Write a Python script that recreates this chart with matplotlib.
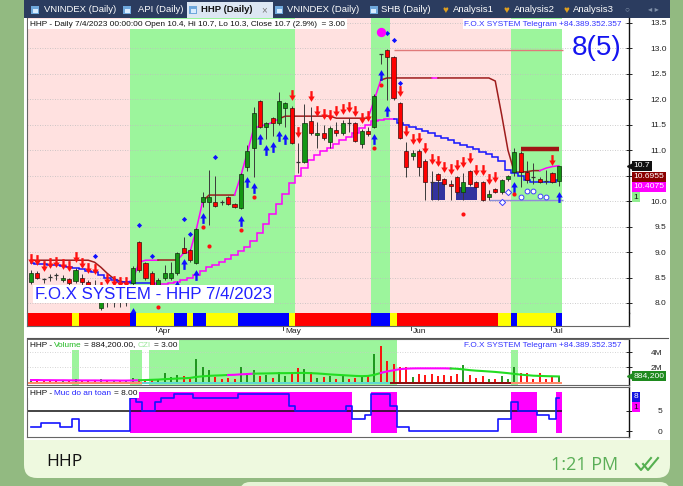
import numpy as np
import matplotlib.pyplot as plt
from matplotlib.patches import Rectangle, FancyBboxPatch
from matplotlib.path import Path
from matplotlib.lines import Line2D
from matplotlib.transforms import blended_transform_factory as blend

plt.rcParams['font.family'] = ['Liberation Sans', 'DejaVu Sans']

# ---- daily candles HHP, 84 bars (early March .. 4 Jul 2023)
opens = [8.41, 8.59, 8.46, 8.52, 8.55, 8.45, 8.47, 8.43, 8.50, 8.42,
         8.35, 7.90, 8.15, 8.12, 8.14, 8.10, 8.39, 9.20, 8.78, 8.59,
         8.35, 8.49, 8.49, 8.59, 9.08, 9.04, 8.78, 9.98, 9.98, 9.98,
         9.98, 10.08, 9.94, 9.86, 10.67, 11.04, 11.97, 11.46, 11.63, 11.54,
         11.83, 11.83, 10.77, 10.77, 11.58, 11.30, 11.34, 11.16, 11.40, 11.34,
         11.54, 11.54, 11.12, 11.38, 11.46, 12.89, 12.97, 12.83, 11.93, 10.98,
         10.89, 10.98, 10.79, 10.38, 10.53, 10.44, 10.34, 10.48, 10.18, 10.59,
         10.38, 10.38, 10.08, 10.24, 10.18, 10.44, 10.57, 10.95, 10.57, 10.47,
         10.44, 10.40, 10.55, 10.40]
highs = [8.64, 8.62, 8.50, 8.56, 8.58, 8.55, 8.50, 8.68, 8.56, 8.46,
         8.45, 8.10, 8.25, 8.22, 8.20, 8.20, 8.72, 9.22, 8.80, 8.62,
         8.50, 8.75, 8.80, 9.00, 9.30, 9.06, 9.47, 10.18, 10.61, 10.50,
         10.02, 10.10, 9.96, 10.55, 11.10, 11.85, 11.99, 11.56, 11.66, 12.15,
         11.95, 11.86, 11.14, 11.90, 11.85, 11.55, 11.50, 11.48, 11.55, 11.60,
         11.63, 11.56, 11.42, 11.45, 12.10, 12.90, 12.99, 12.86, 11.95, 11.16,
         11.00, 11.02, 10.82, 10.60, 10.56, 10.46, 10.42, 10.50, 10.55, 10.62,
         10.40, 10.40, 10.22, 10.26, 10.44, 10.52, 11.05, 10.98, 10.78, 10.75,
         10.47, 10.62, 10.58, 10.70]
lows = [8.38, 8.48, 8.40, 8.44, 8.46, 8.42, 8.36, 8.40, 8.36, 8.30,
        8.20, 7.86, 7.92, 7.92, 7.93, 7.94, 8.02, 8.60, 8.45, 8.28,
        8.25, 8.45, 8.45, 8.55, 8.98, 8.80, 8.76, 9.88, 9.53, 9.88,
        9.92, 9.92, 9.86, 9.84, 10.60, 10.47, 11.44, 11.22, 11.28, 11.50,
        11.45, 11.12, 10.55, 10.75, 11.30, 11.05, 11.20, 11.05, 11.28, 11.30,
        11.35, 11.16, 11.05, 11.28, 11.44, 12.70, 11.99, 11.99, 11.22, 10.47,
        10.80, 10.50, 10.02, 10.02, 10.02, 10.30, 10.02, 10.15, 10.02, 10.30,
        10.25, 10.00, 10.02, 10.16, 10.15, 10.40, 10.50, 10.28, 10.36, 10.33,
        10.36, 10.33, 10.36, 10.30]
closes = [8.59, 8.50, 8.47, 8.52, 8.55, 8.50, 8.39, 8.65, 8.42, 8.35,
          8.30, 8.02, 8.12, 8.14, 8.10, 8.12, 8.68, 8.65, 8.49, 8.31,
          8.45, 8.59, 8.59, 8.98, 8.98, 8.84, 9.45, 10.08, 10.08, 9.90,
          9.98, 9.94, 9.88, 10.53, 10.98, 11.73, 11.46, 11.54, 11.54, 11.97,
          11.93, 11.14, 10.77, 11.54, 11.34, 11.34, 11.25, 11.44, 11.34, 11.54,
          11.54, 11.18, 11.38, 11.32, 12.07, 12.89, 12.83, 12.03, 11.24, 10.67,
          10.95, 10.67, 10.38, 10.38, 10.42, 10.34, 10.30, 10.18, 10.38, 10.34,
          10.28, 10.02, 10.14, 10.18, 10.42, 10.50, 10.97, 10.57, 10.42, 10.47,
          10.38, 10.40, 10.38, 10.70]

# resistance line (brown / magenta) and trailing line (blue / magenta)
lineA = [8.84, 8.84, 8.84, 8.84, 8.84, 8.84, 8.84, 8.84, 8.84, 8.84,
         8.80, 8.70, 8.58, 8.48, 8.43, 8.40, 8.45, 8.80, 8.84, 8.84,
         8.84, 8.84, 8.84, 8.84, 8.98, 9.00, 9.45, 10.00, 10.12, 10.12,
         10.12, 10.12, 10.12, 10.50, 10.95, 11.42, 11.48, 11.50, 11.55, 11.62,
         11.67, 11.67, 11.67, 11.67, 11.67, 11.67, 11.67, 11.67, 11.63, 11.63,
         11.63, 11.63, 11.63, 11.63, 12.00, 12.38, 12.42, 12.42, 12.42, 12.42,
         12.42, 12.42, 12.42, 12.42, 12.42, 12.42, 12.42, 12.42, 12.42, 12.42,
         12.42, 12.42, 12.42, 12.36, 11.70, 11.00, 10.57, 10.57, 10.58, 10.60,
         10.60, 10.65, 10.68, 10.6955]
lineA_codes = ("bbbbbbbbbbbbbbbb" "mmmmm" "bbb" "mmmm" "bbbbb" "mmmmmmm"
               "bbbbbbbbbbbbbb" "mm" "bbbbbbbb" "m" "bbbbbbbbbbbbbbbb" "mmm")
lineB = [8.78, 8.77, 8.76, 8.75, 8.74, 8.72, 8.70, 8.68, 8.66, 8.63,
         8.60, 8.55, 8.50, 8.45, 8.42, 8.41, 8.40, 8.40, 8.40, 8.40,
         8.38, 8.38, 8.40, 8.42, 8.45, 8.50, 8.55, 8.62, 8.70, 8.75,
         8.80, 8.86, 8.94, 9.02, 9.10, 9.22, 9.38, 9.55, 9.75, 9.95,
         10.15, 10.35, 10.50, 10.65, 10.80, 10.90, 10.98, 11.04, 11.12, 11.20,
         11.26, 11.33, 11.43, 11.50, 11.58, 11.60, 11.62, 11.62, 11.54, 11.50,
         11.46, 11.42, 11.38, 11.33, 11.28, 11.24, 11.20, 11.15, 11.10, 11.06,
         11.02, 10.97, 10.92, 10.86, 10.78, 10.62, 10.55, 10.50, 10.42, 10.38,
         10.38, 10.38, 10.38, 10.41]
lineB_codes = ("bbbbbbbbbbbbbbbbbbbb" "mmmmmmmmmmmmmmmmmmmmmmmmmmmmmmmmmmmmmm"
               "bbbbbbbbbbbbbbbbbbbbbbbbbb")

# signals
down_arrows = [0, 1, 2, 3, 4, 5, 6, 7, 8, 9, 10, 11, 12, 13, 14, 15,
               41, 42, 44, 45, 46, 47, 48, 49, 50, 51, 52, 53,
               58, 59, 60, 61, 62, 63, 64, 65, 66, 67, 68, 69, 70, 71, 72, 73, 82]
up_arrows = [16, 23, 24, 26, 27, 33, 34, 35, 36, 37, 38, 39, 40, 54, 55, 56, 76, 83]
blue_dot_x = [10, 17, 19, 24, 25, 29, 56, 57, 58]
blue_dot_y = [8.92, 9.53, 8.92, 9.65, 9.36, 10.87, 13.30, 13.16, 12.32]
red_dot_x = [20, 27, 28, 33, 35, 54, 55, 68, 76]
red_dot_y = [7.92, 9.49, 9.12, 9.43, 10.08, 11.04, 12.28, 9.75, 10.14]
hollow_dia_x, hollow_dia_y = [74, 75], [9.98, 10.18]
hollow_circ_x, hollow_circ_y = [77, 78, 79, 80, 81], [10.08, 10.19, 10.19, 10.10, 10.08]
zone_x0, zone_x1 = [62.9, 66.9], [65.1, 70.1]
zone_lo, zone_hi = [10.03, 10.03], [10.38, 10.28]

# coloured state strip and background zones
strip_codes = ("RRRRRRR" "Y" "RRRRRRRR" "B" "YYYYYY" "BB" "Y" "BB" "YYYYY" "BBBBBBBB" "Y"
               "RRRRRRRRRRRR" "BBB" "Y" "RRRRRRRRRRRRRRRR" "YY" "B" "YYYYYY" "B")
green_zones = [(16, 41), (54, 56), (76, 83)]
pink_zones = [(0, 15), (42, 53), (57, 75)]
month_bars = [20, 40, 60, 82]
month_names = ['Apr', 'May', 'Jun', 'Jul']

# volume (millions)
volume = [0.35, 0.25, 0.20, 0.15, 0.20, 0.30, 0.25, 0.40, 0.30, 0.20,
          0.25, 0.50, 0.20, 0.15, 0.20, 0.15, 0.60, 0.50, 0.30, 0.35,
          0.50, 1.30, 0.70, 1.00, 0.80, 0.60, 3.10, 2.10, 1.60, 0.70,
          0.50, 0.60, 0.40, 2.00, 1.30, 1.60, 0.90, 1.00, 0.60, 1.40,
          0.80, 1.10, 1.90, 1.80, 1.40, 0.60, 0.70, 0.90, 0.40, 0.80,
          0.50, 0.60, 0.70, 0.80, 3.80, 4.90, 2.90, 2.50, 2.00, 2.00,
          0.70, 1.10, 1.00, 1.10, 0.90, 1.00, 0.80, 1.10, 2.30, 1.00,
          0.60, 0.90, 0.50, 0.40, 0.80, 0.50, 2.00, 1.30, 1.20, 0.50,
          1.20, 0.40, 0.80, 0.884]
vol_ma = [0.30, 0.30, 0.28, 0.28, 0.27, 0.27, 0.26, 0.26, 0.25, 0.25,
          0.25, 0.24, 0.24, 0.24, 0.23, 0.23, 0.25, 0.28, 0.30, 0.33,
          0.36, 0.42, 0.46, 0.50, 0.54, 0.58, 0.72, 0.80, 0.86, 0.90,
          0.93, 0.97, 1.00, 1.06, 1.10, 1.15, 1.17, 1.18, 1.20, 1.22,
          1.22, 1.23, 1.25, 1.25, 1.22, 1.18, 1.12, 1.05, 1.00, 0.95,
          0.90, 0.85, 0.82, 0.85, 1.00, 1.25, 1.45, 1.60, 1.75, 1.82,
          1.85, 1.86, 1.86, 1.86, 1.86, 1.86, 1.84, 1.80, 1.72, 1.62,
          1.55, 1.50, 1.44, 1.38, 1.30, 1.22, 1.12, 1.02, 0.95, 0.88,
          0.85, 0.82, 0.80, 0.78]
ma_codes = ("mmmmmmmmmmmmmmmmmm" "gggggggggggggg" "mmmm" "gggggggggggggggggggg"
            "mmmmmmmmmmm" "ggggggggggggggggg")
vol_base_codes = ("oooooooooooooooooo" "ccccccccccccccccccccccccccccccccccccccc"
                  "ddddddddddddddddddd" "oooooooo")
vol_green_zones = [(7, 7), (16, 17), (19, 57), (76, 76)]

# "Muc do an toan" (safety level)
safety = [1, 1, 2, 2, 2, 1, 1, 3, 0, 0, 0, 0, 0, 0, 0, 0, 8, 7, 5, 5,
          7, 8, 8, 9, 9, 9, 8, 8, 8, 8, 8, 8, 8, 9, 9, 9, 9, 9, 9, 9,
          9, 6, 5, 5, 5, 5, 5, 5, 5, 5, 6, 3, 3, 4, 9, 9, 9, 6, 1, 1,
          0, 0, 0, 0, 0, 0, 0, 0, 0, 0, 0, 0, 0, 0, 3, 3, 7, 5, 5, 5,
          4, 4, 3, 8]

W, H = 683, 486
fig = plt.figure(figsize=(W / 100, H / 100), dpi=100)
fig.patch.set_facecolor('#92BA81')
rend = fig.canvas.get_renderer()


def frac(x0, y0, x1, y1):
    return [x0 / W, 1 - y1 / H, (x1 - x0) / W, (y1 - y0) / H]


def rect(x0, y0, x1, y1, fc, z=-1):
    fig.add_artist(Rectangle((x0 / W, 1 - y1 / H), (x1 - x0) / W, (y1 - y0) / H,
                             transform=fig.transFigure, fc=fc, ec='none', zorder=z))


def label(x, y, s, **kw):
    kw.setdefault('va', 'center')
    kw.setdefault('zorder', 6)
    return fig.text(x / W, 1 - y / H, s, **kw)


def chain(x, y, parts, size):
    x0 = x
    gap = 0.28 * size * 100 / 72
    for s, col in parts:
        t = label(x, y, s, color=col, fontsize=size)
        x += t.get_window_extent(rend).width + gap
    rect(x0 - 2, y - size * 0.8, x - gap + 2, y + size * 0.8, 'white', z=5)


def colored_line(a, y, codes, cmap, lw, steps=False, z=2.5):
    xs = np.arange(len(y))
    start = 0
    for i in range(1, len(y) + 1):
        if i == len(y) or codes[i] != codes[start]:
            s0 = max(start - 1, 0)
            a.plot(xs[s0:i], y[s0:i], color=cmap[codes[start]], lw=lw, zorder=z,
                   drawstyle='steps-mid' if steps else 'default', solid_joinstyle='miter')
            start = i


# ---------------- background: telegram bubble + chart window
fig.add_artist(FancyBboxPatch((0.24, 0.08), 6.46, 5.2, boxstyle='round,pad=0,rounding_size=0.13',
                              transform=fig.dpi_scale_trans, fc='#EEF9DF', ec='none', zorder=-3))
fig.add_artist(FancyBboxPatch((2.40, -0.3), 4.30, 0.34, boxstyle='round,pad=0,rounding_size=0.1',
                              transform=fig.dpi_scale_trans, fc='#E6F4D6', ec='none', zorder=-3))
rect(24, 0, 670, 440, 'white', z=-2)
rect(24, 0, 670, 18, '#2B3C5F', z=-1.5)

# tabs
tabs = [(35, 44, 'VNINDEX (Daily)', 'c'), (127, 138, 'API (Daily)', 'c'),
        (193, 201, 'HHP (Daily)', 'a'), (279, 287, 'VNINDEX (Daily)', 'c'),
        (374, 381, 'SHB (Daily)', 'c'), (445, 453, 'Analysis1', 'h'),
        (506, 514, 'Analysis2', 'h'), (566, 573, 'Analysis3', 'h')]
rect(187, 2, 273, 18, '#DDE7F3', z=-1)
for ix, tx, s, kind in tabs:
    if kind == 'h':
        label(ix, 10, '\u2665', color='#E0A020', fontsize=7, ha='center')
    else:
        rect(ix - 4, 6, ix + 4, 14, '#6FA8DC', z=-1)
        rect(ix - 2.5, 9, ix + 2.5, 13, '#D8ECFF', z=-0.9)
    if kind == 'a':
        label(tx, 10, s, color='#111111', fontsize=6.8, fontweight='bold')
        label(264, 10, '\u00d7', color='#777777', fontsize=7, ha='center')
    else:
        label(tx, 10, s, color='white', fontsize=6.8)
label(627, 10, '\u25cb', color='#8090A8', fontsize=6, ha='center')
label(653, 10, '\u25c2 \u25b8', color='#8090A8', fontsize=6, ha='center')

# ---------------- axes
x = np.arange(len(closes))
o, h, l, c = map(np.array, (opens, highs, lows, closes))
xl = (-0.63, 94.03)

ax = fig.add_axes(frac(27, 18, 629, 313))
ax_s = fig.add_axes(frac(27, 313, 629, 326))
ax_v = fig.add_axes(frac(27, 339, 629, 385))
ax_m = fig.add_axes(frac(27, 387, 629, 437))
for a in (ax, ax_s, ax_v, ax_m):
    a.set_xlim(*xl)
    a.set_xticks([])
    for side in ('left', 'top', 'bottom'):
        a.spines[side].set_color('#666666')
        a.spines[side].set_linewidth(0.8)
    a.spines['right'].set_color('#111111')
    a.spines['right'].set_linewidth(1.0)

# price panel
ax.set_ylim(7.803, 13.598)
ax.spines['top'].set_visible(False)
ax.spines['bottom'].set_visible(False)
for a0, b0 in green_zones:
    ax.axvspan(a0 - 0.5, b0 + 0.5, color='#9CF59C', lw=0, zorder=0.1)
for a0, b0 in pink_zones:
    ax.axvspan(xl[0] if a0 == 0 else a0 - 0.5, b0 + 0.5, color='#FFE1E0', lw=0, zorder=0.1)
ax.set_axisbelow(True)
pticks = np.arange(8.0, 13.51, 0.5)
ax.set_yticks(pticks)
# the 10.5 label sits under the last-value boxes in the reference
ax.set_yticklabels(['' if abs(v - 10.5) < 0.01 else '%.1f' % v for v in pticks])
ax.yaxis.tick_right()
ax.tick_params(axis='y', direction='inout', length=4, width=0.7, labelsize=6, pad=25, colors='#222222')
plt.setp(ax.get_yticklabels(), ha='right')
ax.grid(axis='y', color='#BDBDBD', ls=(0, (1, 2)), lw=0.6)

for i in range(len(zone_x0)):
    ax.add_patch(Rectangle((zone_x0[i], zone_lo[i]), zone_x1[i] - zone_x0[i], zone_hi[i] - zone_lo[i],
                           fc='#33339F', ec='none', zorder=1))
ax.hlines(12.97, 57, 83.6, color='#E07A7A', lw=1.0, zorder=2)
ax.hlines(10.02, 72, 83.6, color='#8F8FD8', lw=1.0, zorder=2)
ax.hlines(11.02, 77, 83, color='#A01515', lw=3.2, zorder=2)

colored_line(ax, lineA, lineA_codes, {'b': '#9E1C1C', 'm': '#FF00FF'}, 1.1)
colored_line(ax, lineB, lineB_codes, {'b': '#1414FF', 'm': '#FF00FF'}, 1.1, steps=True)

up = c > o + 0.012
dn = c < o - 0.012
dj = ~(up | dn)
ax.vlines(x, l, h, color='#3A3A3A', lw=0.7, zorder=3)
ax.bar(x[up], (c - o)[up], bottom=o[up], width=0.64, color='#149614', edgecolor='#0F2F0F', lw=0.5, zorder=4)
ax.bar(x[dn], (o - c)[dn], bottom=c[dn], width=0.64, color='#FF0000', edgecolor='#3A0F0F', lw=0.5, zorder=4)
ax.hlines(c[dj], x[dj] - 0.32, x[dj] + 0.32, color='#333333', lw=0.9, zorder=4)

up_v = [(-0.36, 0.0), (0.0, 0.6), (0.36, 0.0), (0.13, 0.0), (0.13, -0.6), (-0.13, -0.6), (-0.13, 0.0), (-0.36, 0.0)]
codes = [Path.MOVETO] + [Path.LINETO] * 6 + [Path.CLOSEPOLY]
arrow_up = Path(up_v, codes)
arrow_dn = Path([(vx, -vy) for vx, vy in up_v], codes)
da = np.array(down_arrows)
ua = np.array(up_arrows)
ax.scatter(da, h[da] + 0.22, marker=arrow_dn, s=60, c='#FF1010', lw=0, zorder=5)
ax.scatter(ua, l[ua] - 0.22, marker=arrow_up, s=60, c='#1010FF', lw=0, zorder=5)
ax.scatter(blue_dot_x, blue_dot_y, marker='D', s=7, c='#1010FF', lw=0, zorder=5)
ax.scatter(red_dot_x, red_dot_y, marker='o', s=9, c='#FF1010', lw=0, zorder=5)
ax.scatter([55], [13.33], marker='o', s=45, c='#FF00FF', lw=0, zorder=5)
ax.scatter(hollow_dia_x, hollow_dia_y, marker='D', s=10, facecolors='white', edgecolors='#4040FF', lw=0.7, zorder=5)
ax.scatter(hollow_circ_x, hollow_circ_y, marker='o', s=12, facecolors='white', edgecolors='#4040FF', lw=0.7, zorder=5)

tr = blend(ax.transAxes, ax.transData)
for yv, s, fc, tc in [(10.70, '10.7', '#111111', 'white'), (10.48, '10.6955', '#8B0000', 'white'),
                      (10.28, '10.4075', '#FF00FF', 'white'), (10.08, '1', '#90EE90', '#111111')]:
    ax.text(1.008, yv, s, transform=tr, fontsize=6.1, color=tc, va='center', ha='left', zorder=7,
            clip_on=False, bbox=dict(boxstyle='square,pad=0.18', fc=fc, ec='none'))
ax.plot([1.001], [10.70], transform=tr, marker='<', ms=4, color='#111111', clip_on=False, zorder=7)

# state strip + dates
ax_s.set_ylim(0, 1)
ax_s.set_yticks([])
ax_s.spines['top'].set_visible(False)
cmap_s = {'R': '#FF0000', 'Y': '#FFFF00', 'B': '#0000FF'}
ax_s.bar(x, 1, width=1.02, color=[cmap_s[k] for k in strip_codes], lw=0, antialiased=False)
trs = blend(ax_s.transData, ax_s.transAxes)
for b, name in zip(month_bars, month_names):
    ax_s.plot([b - 0.3, b - 0.3], [-0.02, -0.3], transform=trs, color='#444444', lw=0.7, clip_on=False)
    ax_s.text(b, -0.12, name, transform=trs, fontsize=6, va='top', ha='left', color='#222222', clip_on=False)
fig.add_artist(Line2D([27 / W, 668 / W], [1 - 338 / H] * 2, color='#555555', lw=0.8))

# volume panel
ax_v.set_ylim(-0.36, 5.77)
for a0, b0 in vol_green_zones:
    ax_v.axvspan(a0 - 0.5, b0 + 0.5, color='#9CF59C', lw=0, zorder=0.1)
vcol = ['#138C13' if cc > oo + 0.012 else '#FF0000' for oo, cc in zip(opens, closes)]
ax_v.vlines(x, 0, volume, colors=vcol, lw=1.3, zorder=3)
cmap_b = {'o': '#FF8A6A', 'c': '#5FD8D0', 'd': '#8B1010'}
ax_v.bar(x, 0.28, bottom=-0.2, width=1.02, color=[cmap_b[k] for k in vol_base_codes], lw=0, zorder=2)
colored_line(ax_v, vol_ma, ma_codes, {'g': '#22DD22', 'm': '#FF00FF'}, 1.5, z=4)
ax_v.set_yticks([2, 4])
ax_v.set_yticklabels(['2M', '4M'])
ax_v.yaxis.tick_right()
ax_v.tick_params(axis='y', direction='inout', length=4, width=0.7, labelsize=6, pad=22, colors='#222222')
plt.setp(ax_v.get_yticklabels(), ha='right')
ax_v.grid(axis='y', color='#C8C8C8', ls=(0, (1, 2)), lw=0.6)
ax_v.set_axisbelow(True)
trv = blend(ax_v.transAxes, ax_v.transData)
ax_v.text(1.008, 0.88, '884,200', transform=trv, fontsize=6.1, color='white', va='center', ha='left',
          zorder=7, clip_on=False, bbox=dict(boxstyle='square,pad=0.18', fc='#1E8A1E', ec='none'))
ax_v.plot([1.001], [0.88], transform=trv, marker='<', ms=4, color='#1E8A1E', clip_on=False, zorder=7)

# safety panel
ax_m.set_ylim(-1.46, 10.73)
sf = np.array(safety)
mask = sf >= 5
ax_m.bar(x[mask], 10, bottom=-0.5, width=1.02, color='#FF00FF', lw=0, zorder=1)
ax_m.hlines(5, xl[0], 83.5, color='#111111', lw=1.1, zorder=2)
ax_m.plot(x, sf, drawstyle='steps-mid', color='#1414FF', lw=1.2, zorder=3)
ax_m.set_yticks([0, 5])
ax_m.yaxis.tick_right()
ax_m.tick_params(axis='y', direction='inout', length=4, width=0.7, labelsize=6, pad=22, colors='#222222')
plt.setp(ax_m.get_yticklabels(), ha='right')
trm = blend(ax_m.transAxes, ax_m.transData)
ax_m.text(1.008, 8.3, '8', transform=trm, fontsize=6, color='white', va='center', ha='left', zorder=7,
          clip_on=False, bbox=dict(boxstyle='square,pad=0.2', fc='#1414E0', ec='none'))
ax_m.text(1.008, 5.8, '1', transform=trm, fontsize=6, color='#111111', va='center', ha='left', zorder=7,
          clip_on=False, bbox=dict(boxstyle='square,pad=0.2', fc='#FF00FF', ec='none'))

# ---------------- panel titles
chain(30, 24, [('HHP - Daily 7/4/2023 00:00:00 Open 10.4, Hi 10.7, Lo 10.3, Close 10.7 (2.9%)  = 3.00', '#111111')], 5.95)
t = label(622, 24, 'F.O.X SYSTEM Telegram +84.389.352.357', color='#3333FF', fontsize=5.95, ha='right')
rect(622 - t.get_window_extent(rend).width - 2, 19, 624, 29, 'white', z=5)
label(572, 48, '8(5)', color='#1515F0', fontsize=20, ha='left')
label(35, 294, 'F.O.X SYSTEM - HHP 7/4/2023', color='#2222FF', fontsize=12.2, ha='left',
      bbox=dict(boxstyle='square,pad=0.1', fc='white', ec='none'))

chain(30, 345, [('HHP -', '#111111'), ('Volume', '#22BB22'), ('= 884,200.00,', '#111111'),
                ('CZI', '#9BE89B'), ('= 3.00', '#111111')], 5.95)
t = label(622, 345, 'F.O.X SYSTEM Telegram +84.389.352.357', color='#3333FF', fontsize=5.95, ha='right')
rect(622 - t.get_window_extent(rend).width - 2, 340, 624, 350, 'white', z=5)
chain(30, 393, [('HHP -', '#111111'), ('Muc do an toan', '#2222FF'), ('= 8.00', '#111111')], 5.95)

# ---------------- telegram caption
label(46, 462, 'HHP', color='#111111', fontsize=12.5, family=['Open Sans', 'DejaVu Sans'])
label(618, 465, '1:21 PM', color='#5AAE57', fontsize=13, ha='right', family=['Open Sans', 'DejaVu Sans'])
for dx in (0, 7):
    fig.add_artist(Line2D([(636 + dx) / W, (641 + dx) / W, (651 + dx) / W],
                          [1 - 464 / H, 1 - 470 / H, 1 - 458 / H], color='#55B050', lw=1.5))

fig.savefig('out.png', dpi=100, facecolor=fig.get_facecolor())
